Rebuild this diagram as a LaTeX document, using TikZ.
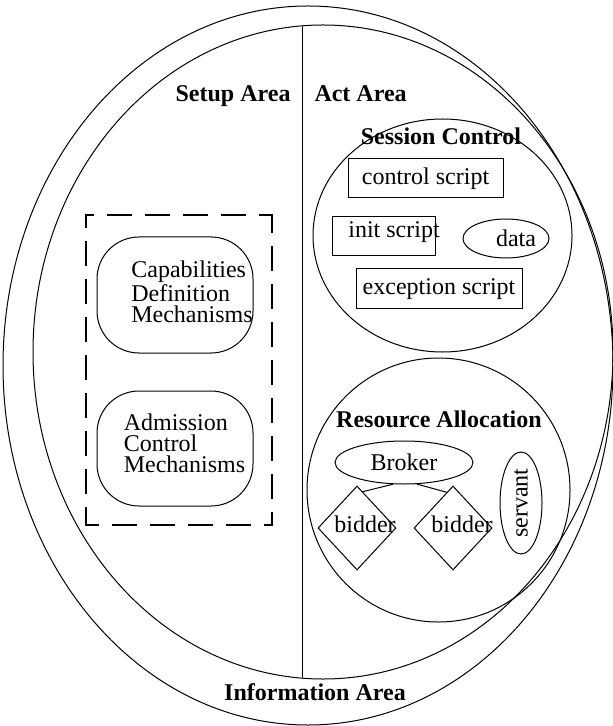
\documentclass[tikz,border=0pt]{standalone}
\usepackage{fontspec}
\setmainfont{Liberation Serif}
\usetikzlibrary{shapes.geometric}

\begin{document}
\begin{tikzpicture}[x=0.5pt,y=-0.5pt,line width=0.5pt,
    font=\fontsize{12}{10.5}\selectfont,
    area/.style={font=\fontsize{12}{14}\selectfont\bfseries,inner sep=0pt},
    frame/.style={line width=1.3pt,line cap=rect,dash pattern=on 11.5pt off 7.5pt,dash phase=5.5pt},
    script/.style={draw,rectangle,inner sep=0pt},
    blob/.style={draw,ellipse,inner sep=0pt},
    bidder/.style={draw,diamond,inner sep=0pt,minimum width=39pt,minimum height=42pt},
    mech/.style={draw,rectangle,rounded corners=21pt,minimum width=78pt,inner sep=0pt}]
    \useasboundingbox (0,0) rectangle (613,726);

    % areas
    \draw (308,365.5) ellipse [x radius=152.5pt, y radius=179.75pt];
    \draw (323,352) ellipse [x radius=145pt, y radius=163.5pt];
    \coordinate (top) at (302,26);
    \coordinate (bot) at (302,678);
    \draw (top) -- (bot);

    \node [area,anchor=base east] (setup) at (291,102) {Setup Area};
    \node [area,anchor=base west] (act) at (314,102) {Act Area};
    \node [area,anchor=base] (info) at (315,700) {Information Area};

    % setup area
    \coordinate (f1) at (86,215);
    \coordinate (f2) at (86,525);
    \coordinate (f3) at (272,525);
    \coordinate (f4) at (272,215);
    \draw [frame] (f1) -- (f2);
    \draw [frame] (f2) -- (f3);
    \draw [frame] (f3) -- (f4);
    \draw [frame] (f4) -- (f1);
    \node [mech,minimum height=58pt,
        label={[xshift=8.5pt,yshift=1.5pt,align=left]center:Capabilities\\Definition\\Mechanisms}]
        (capab) at (175,295) {};
    \node [mech,minimum height=57.5pt,
        label={[xshift=4.75pt,yshift=2.75pt,align=left]center:Admission\\Control\\Mechanisms}]
        (admis) at (175,448.5) {};

    % session control
    \draw (442.5,235.5) ellipse [x radius=64.75pt, y radius=58.25pt];
    \node [area,anchor=base] (sess) at (441,145) {Session Control};
    \node [script,minimum width=77.5pt,minimum height=19.5pt] (ctrl) at (425.5,178.5) {control script};
    \node [script,minimum width=51.5pt,minimum height=19.5pt,
        label={[xshift=5.25pt,yshift=2.25pt]center:init script}] (init) at (383.5,236.5) {};
    \node [blob,minimum width=43pt,minimum height=19.5pt,
        label={[xshift=5pt]center:data}] (data) at (506,238.5) {};
    \node [script,minimum width=83pt,minimum height=20pt] (exc) at (439,289) {exception script};

    % resource allocation
    \draw (438.5,490) ellipse [x radius=65.75pt, y radius=66pt];
    \node [area,anchor=base] (res) at (439,427) {Resource Allocation};
    \node [blob,minimum width=69pt,minimum height=21.5pt] (broker) at (404,462.5) {Broker};
    \node [bidder,label={[xshift=4pt,yshift=2pt]center:bidder}] (bid1) at (357,528) {};
    \node [bidder,label={[xshift=4.5pt,yshift=2pt]center:bidder}] (bid2) at (453,528) {};
    \node [blob,rotate=90,minimum width=51pt,minimum height=21pt] (serv) at (521,503) {servant};
    \draw (broker.243) -- (bid1.81);
    \draw (broker.301) -- (bid2.100);
\end{tikzpicture}
\end{document}
